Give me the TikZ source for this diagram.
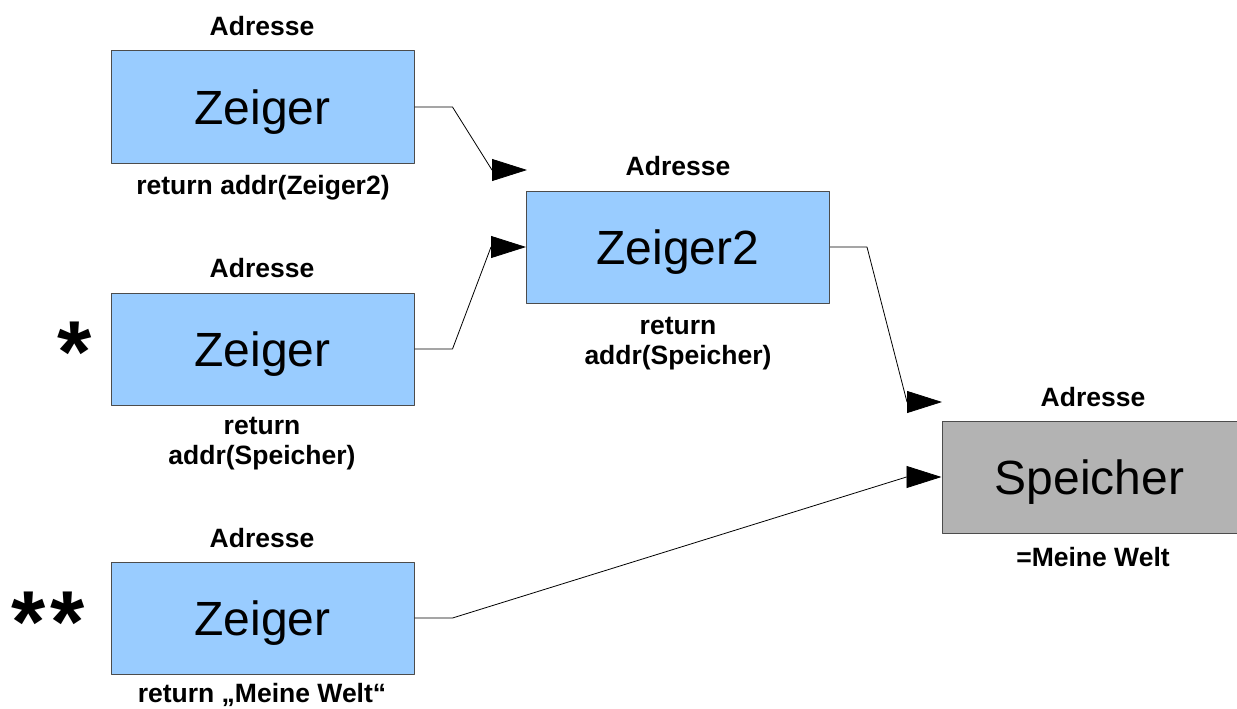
\documentclass[tikz,border=0pt]{standalone}
\usepackage{fontspec}
\setmainfont{Liberation Sans}
\usetikzlibrary{arrows.meta}
\definecolor{zeigerblau}{HTML}{99CCFF}
\definecolor{speichergrau}{HTML}{B3B3B3}

\begin{document}
\begin{tikzpicture}[x=1pt, y=-1pt, line join = round,
    box/.style={draw=black!70, line width=1pt, minimum width=303pt, minimum height=112pt, inner sep=0pt, text depth=0pt, font=\fontsize{48}{56}\selectfont},
    zeiger/.style={box, fill=zeigerblau},
    speicher/.style={box, fill=speichergrau, minimum width=295pt},
    lbl/.style={font=\bfseries\fontsize{26.5}{30}\selectfont, align=center, inner sep=0pt},
    stern/.style={font=\bfseries\fontsize{88}{96}\selectfont, inner sep=0pt},
    ptr/.style={-{Triangle[length=35pt, width=22pt]}, line width=0.8pt}]
    \useasboundingbox[fill=white] (0,0) rectangle (1237,709);

    % Zeiger-Kaestchen
    \node[zeiger] (z1) at (262.5,107) {Zeiger};
    \node[zeiger] (z2) at (678,247) {Zeiger2};
    \node[zeiger] (z3) at (262.5,349) {Zeiger};
    \node[zeiger] (z4) at (262.5,618) {Zeiger};
    \node[speicher] (sp) at (1089.5,477) {Speicher};

    % Beschriftungen
    \node[lbl] (a1) at (262,26) {Adresse};
    \node[lbl] (a2) at (678,166) {Adresse};
    \node[lbl] (a3) at (262,268) {Adresse};
    \node[lbl] (a4) at (262,538) {Adresse};
    \node[lbl] (a5) at (1093,397) {Adresse};

    \node[lbl] (r1) at (263,188) {return addr(Zeiger2)};
    \node[lbl] (r2) at (678,344) {return\\addr(Speicher)};
    \node[lbl] (r3) at (262,444) {return\\addr(Speicher)};
    \node[lbl] (r4) at (262,695) {return „Meine Welt“};
    \node[lbl] (w) at (1093,557) {=Meine Welt};

    \node[stern] (s1) at (75,352) {*};
    \node[stern] (s2) at (48,622) {*\hspace{5pt}*};

    \coordinate (t1) at (527,170);
    \coordinate (t3) at (942,402);

    % Pfeile
    \draw[ptr] (z1.east) -- ++(38,0) -- ([xshift=-35]t1) -- (t1);
    \draw[ptr] (z3.east) -- ++(38,0) -- ([xshift=-35]z2.west) -- (z2.west);
    \draw[ptr] (z2.east) -- ++(37,0) -- ([xshift=-35]t3) -- (t3);
    \draw[ptr] (z4.east) -- ++(38,0) -- ([xshift=-35]sp.west) -- (sp.west);
\end{tikzpicture}
\end{document}
